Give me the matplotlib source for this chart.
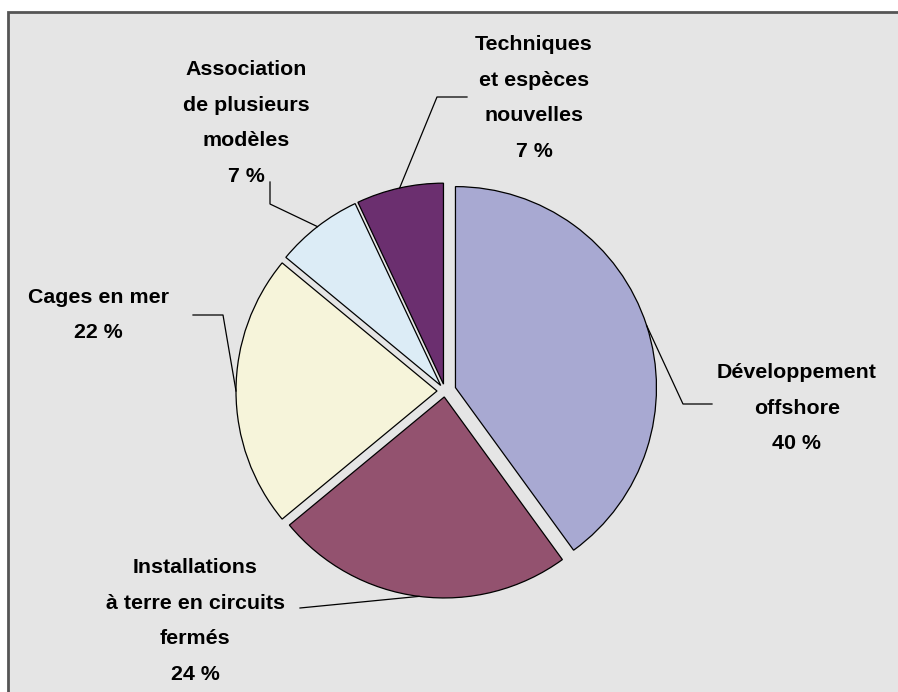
import matplotlib.pyplot as plt
import numpy as np
from matplotlib.patches import Rectangle

# Data
labels = ["Développement\noffshore",
          "Installations\nà terre en circuits\nfermés",
          "Cages en mer",
          "Association\nde plusieurs\nmodèles",
          "Techniques\net espèces\nnouvelles"]
values = [40, 24, 22, 7, 7]
colors = ["#A8A9D2", "#93526F", "#F6F4DA", "#DCECF6", "#6B2F6F"]

# Layout (pixel coords, y measured from the top)
W, H = 898, 692
radius = 201
center = (445, H - 391)
explode_px = [11, 6, 8, 7, 7]
text_pos = [(797, 408), (195, 621), (98, 315), (246, 123), (534, 98)]
elbows = [[(683, 404), (712, 404)],
          [(300, 608)],
          [(223, 315), (193, 315)],
          [(270, 204), (270, 182)],
          [(437, 97), (467, 97)]]

fig = plt.figure(figsize=(W / 100, H / 100), dpi=100)
ax = fig.add_axes([0, 0, 1, 1])

# frame
ax.add_patch(Rectangle((8, -20), W + 20, H - 12 + 20, facecolor="#E5E5E5",
                       edgecolor="#555555", linewidth=2, zorder=0))

# explode is in data units here (pixels)
wedges, _ = ax.pie(values, colors=colors, startangle=90, counterclock=False,
                   explode=explode_px,
                   center=center, radius=radius, frame=True,
                   wedgeprops=dict(edgecolor="black", linewidth=0.9))

for w, lab, v, tp, elb in zip(wedges, labels, values, text_pos, elbows):
    ang = np.deg2rad((w.theta1 + w.theta2) / 2)
    cx, cy = w.center
    xs = [cx + w.r * np.cos(ang)] + [p[0] for p in elb]
    ys = [cy + w.r * np.sin(ang)] + [H - p[1] for p in elb]
    ax.plot(xs, ys, color="black", linewidth=0.9, zorder=3)
    ax.text(tp[0], H - tp[1], f"{lab}\n{v} %", ha="center", va="center",
            multialignment="center", fontsize=15.4, fontweight="bold",
            family="Liberation Sans", linespacing=2.1)

ax.set_xlim(0, W)
ax.set_ylim(0, H)
ax.set_aspect("equal")
ax.axis("off")

fig.savefig("out.png", dpi=100)
